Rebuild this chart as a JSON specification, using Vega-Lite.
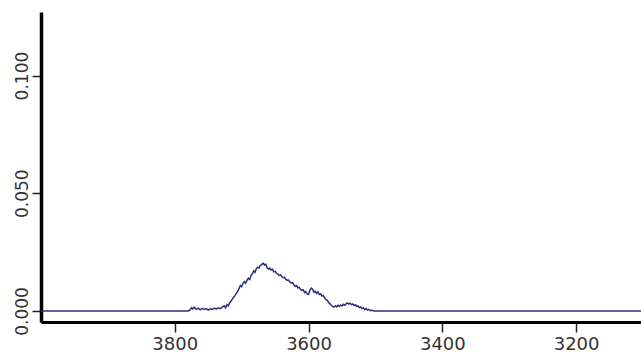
{
  "$schema": "https://vega.github.io/schema/vega-lite/v6.json",
  "autosize": "none",
  "width": 602,
  "height": 310,
  "padding": {"left": 41, "top": 12, "right": 0, "bottom": 36},
  "background": "white",
  "config": {"view": {"stroke": null}},
  "data": {"values": [
    {"wn": 4000, "a": 0}, {"wn": 3780, "a": 0}, {"wn": 3777, "a": 0.0004}, {"wn": 3775, "a": 0.0014},
    {"wn": 3773, "a": 0.0009}, {"wn": 3771, "a": 0.0016}, {"wn": 3768, "a": 0.0007}, {"wn": 3765, "a": 0.0012},
    {"wn": 3762, "a": 0.0005}, {"wn": 3759, "a": 0.0011}, {"wn": 3756, "a": 0.0006}, {"wn": 3753, "a": 0.0010},
    {"wn": 3750, "a": 0.0004}, {"wn": 3747, "a": 0.0009}, {"wn": 3744, "a": 0.0006}, {"wn": 3741, "a": 0.0012},
    {"wn": 3738, "a": 0.0008}, {"wn": 3735, "a": 0.0013}, {"wn": 3732, "a": 0.0010}, {"wn": 3729, "a": 0.0016},
    {"wn": 3726, "a": 0.0022}, {"wn": 3724, "a": 0.0013}, {"wn": 3722, "a": 0.0027}, {"wn": 3720, "a": 0.0021},
    {"wn": 3718, "a": 0.0034}, {"wn": 3716, "a": 0.0041}, {"wn": 3714, "a": 0.0050}, {"wn": 3712, "a": 0.0058},
    {"wn": 3710, "a": 0.0065}, {"wn": 3708, "a": 0.0075}, {"wn": 3706, "a": 0.0083}, {"wn": 3704, "a": 0.0095},
    {"wn": 3702, "a": 0.0108}, {"wn": 3700, "a": 0.0103}, {"wn": 3698, "a": 0.0117}, {"wn": 3696, "a": 0.0124},
    {"wn": 3694, "a": 0.0118}, {"wn": 3692, "a": 0.0131}, {"wn": 3690, "a": 0.0139}, {"wn": 3688, "a": 0.0133},
    {"wn": 3686, "a": 0.0150}, {"wn": 3684, "a": 0.0158}, {"wn": 3682, "a": 0.0170}, {"wn": 3680, "a": 0.0164},
    {"wn": 3678, "a": 0.0180}, {"wn": 3676, "a": 0.0186}, {"wn": 3674, "a": 0.0183}, {"wn": 3672, "a": 0.0194},
    {"wn": 3670, "a": 0.0197}, {"wn": 3668, "a": 0.0203}, {"wn": 3666, "a": 0.0195}, {"wn": 3664, "a": 0.0199},
    {"wn": 3662, "a": 0.0183}, {"wn": 3660, "a": 0.0178}, {"wn": 3658, "a": 0.0182}, {"wn": 3656, "a": 0.0174},
    {"wn": 3654, "a": 0.0177}, {"wn": 3652, "a": 0.0166}, {"wn": 3650, "a": 0.0168}, {"wn": 3648, "a": 0.0160},
    {"wn": 3646, "a": 0.0157}, {"wn": 3644, "a": 0.0151}, {"wn": 3642, "a": 0.0153}, {"wn": 3640, "a": 0.0146},
    {"wn": 3638, "a": 0.0141}, {"wn": 3636, "a": 0.0143}, {"wn": 3634, "a": 0.0135}, {"wn": 3632, "a": 0.0130},
    {"wn": 3630, "a": 0.0131}, {"wn": 3628, "a": 0.0123}, {"wn": 3626, "a": 0.0119}, {"wn": 3624, "a": 0.0120},
    {"wn": 3622, "a": 0.0112}, {"wn": 3620, "a": 0.0104}, {"wn": 3618, "a": 0.0108}, {"wn": 3616, "a": 0.0098},
    {"wn": 3614, "a": 0.0101}, {"wn": 3612, "a": 0.0091}, {"wn": 3610, "a": 0.0087}, {"wn": 3608, "a": 0.0090},
    {"wn": 3606, "a": 0.0078}, {"wn": 3604, "a": 0.0083}, {"wn": 3602, "a": 0.0072}, {"wn": 3600, "a": 0.0070},
    {"wn": 3598, "a": 0.0088}, {"wn": 3596, "a": 0.0097}, {"wn": 3594, "a": 0.0092}, {"wn": 3592, "a": 0.0079},
    {"wn": 3590, "a": 0.0084}, {"wn": 3588, "a": 0.0074}, {"wn": 3586, "a": 0.0081}, {"wn": 3584, "a": 0.0070},
    {"wn": 3582, "a": 0.0073}, {"wn": 3580, "a": 0.0063}, {"wn": 3578, "a": 0.0066}, {"wn": 3576, "a": 0.0055},
    {"wn": 3574, "a": 0.0049}, {"wn": 3572, "a": 0.0045}, {"wn": 3570, "a": 0.0036}, {"wn": 3568, "a": 0.0030},
    {"wn": 3566, "a": 0.0024}, {"wn": 3564, "a": 0.0019}, {"wn": 3562, "a": 0.0016}, {"wn": 3560, "a": 0.0022},
    {"wn": 3558, "a": 0.0017}, {"wn": 3556, "a": 0.0024}, {"wn": 3554, "a": 0.0020}, {"wn": 3552, "a": 0.0025},
    {"wn": 3550, "a": 0.0021}, {"wn": 3548, "a": 0.0028}, {"wn": 3546, "a": 0.0024}, {"wn": 3544, "a": 0.0030},
    {"wn": 3542, "a": 0.0034}, {"wn": 3540, "a": 0.0029}, {"wn": 3538, "a": 0.0033}, {"wn": 3536, "a": 0.0027},
    {"wn": 3534, "a": 0.0030}, {"wn": 3532, "a": 0.0023}, {"wn": 3530, "a": 0.0026}, {"wn": 3528, "a": 0.0019},
    {"wn": 3526, "a": 0.0021}, {"wn": 3524, "a": 0.0014}, {"wn": 3522, "a": 0.0017}, {"wn": 3520, "a": 0.0010},
    {"wn": 3518, "a": 0.0013}, {"wn": 3516, "a": 0.0006}, {"wn": 3514, "a": 0.0010}, {"wn": 3512, "a": 0.0004},
    {"wn": 3510, "a": 0.0007}, {"wn": 3508, "a": 0.0002}, {"wn": 3505, "a": 0.0003}, {"wn": 3502, "a": 0},
    {"wn": 3100, "a": 0}
  ]},
  "mark": {"type": "line", "color": "#2e2e7c", "strokeWidth": 1.5, "interpolate": "linear"},
  "encoding": {
    "x": {
      "field": "wn", "type": "quantitative",
      "scale": {"domain": [3100, 4000], "reverse": true, "nice": false, "zero": false},
      "axis": {
        "title": null, "values": [3800, 3600, 3400, 3200], "grid": false,
        "domainColor": "black", "domainWidth": 3,
        "tickColor": "#222", "tickWidth": 1.5, "tickSize": 10,
        "labelFont": "DejaVu Sans", "labelFontSize": 18, "labelColor": "#333",
        "labelPadding": 3, "format": "d"
      }
    },
    "y": {
      "field": "a", "type": "quantitative",
      "scale": {"domain": [-0.0047, 0.127], "nice": false, "zero": false},
      "axis": {
        "title": null, "values": [0, 0.05, 0.1], "grid": false, "format": ".3f",
        "domainColor": "black", "domainWidth": 3.5,
        "tickColor": "#222", "tickWidth": 1.5, "tickSize": 9,
        "labelFont": "DejaVu Sans", "labelFontSize": 17, "labelColor": "#333",
        "labelAngle": -90, "labelAlign": "center", "labelBaseline": "bottom",
        "labelPadding": 1
      }
    }
  }
}
